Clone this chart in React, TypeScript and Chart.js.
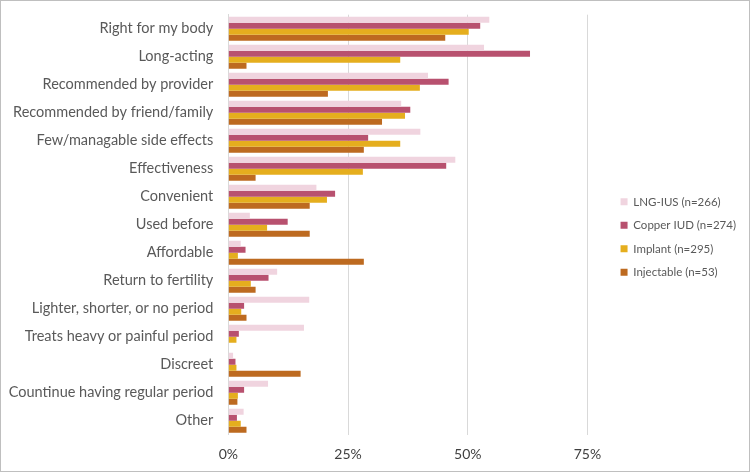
import React, { useEffect, useRef } from "react";
import { Chart, registerables } from "chart.js";

Chart.register(...registerables);

const categories = [
  "Right for my body",
  "Long-acting",
  "Recommended by provider",
  "Recommended by friend/family",
  "Few/managable side effects",
  "Effectiveness",
  "Convenient",
  "Used before",
  "Affordable",
  "Return to fertility",
  "Lighter, shorter, or no period",
  "Treats heavy or painful period",
  "Discreet",
  "Countinue having regular period",
  "Other",
];

const seriesNames = [
  "LNG-IUS (n=266)",
  "Copper IUD (n=274)",
  "Implant (n=295)",
  "Injectable (n=53)",
];

const lngIus = [54.5, 53.4, 41.7, 36.1, 40.1, 47.4, 18.4, 4.5, 2.6, 10.2, 16.9, 15.8, 1.0, 8.3, 3.2];
const copperIud = [52.6, 63.0, 46.0, 38.0, 29.2, 45.5, 22.3, 12.4, 3.6, 8.4, 3.3, 2.2, 1.5, 3.3, 1.8];
const implant = [50.2, 35.9, 40.0, 36.9, 35.9, 28.1, 20.6, 8.1, 2.0, 4.7, 2.7, 1.7, 1.7, 2.0, 2.6];
const injectable = [45.3, 3.8, 20.8, 32.1, 28.3, 5.7, 17.0, 17.0, 28.3, 5.7, 3.8, 0, 15.1, 1.9, 3.8];

const xTickValues = [0, 25, 50, 75];
const xMax = 79.4;

const colors = ["#f0d4df", "#b8516f", "#e5ae1e", "#bd6a20"];

const FONT = "Lato, 'Open Sans', sans-serif";

export default function App() {
  const ref = useRef<HTMLCanvasElement>(null);

  useEffect(() => {
    const series = [lngIus, copperIud, implant, injectable];
    const chart = new Chart(ref.current as HTMLCanvasElement, {
      type: "bar",
      data: {
        labels: categories,
        datasets: series.map((d, i) => ({
          label: seriesNames[i],
          data: d,
          backgroundColor: colors[i],
          borderWidth: 0,
          barPercentage: 1,
          categoryPercentage: 0.857,
        })),
      },
      options: {
        indexAxis: "y",
        animation: false,
        responsive: true,
        maintainAspectRatio: false,
        layout: { autoPadding: false, padding: { top: 13.7, bottom: 11.5, left: 0, right: 3 } },
        scales: {
          x: {
            min: 0,
            max: xMax,
            afterBuildTicks: (axis: any) => {
              axis.ticks = xTickValues.map((v) => ({ value: v }));
            },
            afterFit: (s: any) => {
              s.height = 24.8;
            },
            ticks: {
              callback: (v: any) => v + "%",
              color: "#404040",
              font: { family: FONT, size: 14 },
              padding: 11,
              maxRotation: 0,
              autoSkip: false,
            },
            grid: { color: "#d9d9d9", drawTicks: false },
            border: { display: false },
          },
          y: {
            grid: {
              display: true,
              drawOnChartArea: false,
              drawTicks: true,
              tickLength: 15,
              color: "rgba(0,0,0,0)",
            },
            border: { display: true, color: "#d9d9d9" },
            ticks: {
              color: "#595959",
              font: { family: FONT, size: 14.5 },
              padding: 0,
              autoSkip: false,
            },
            afterFit: (s: any) => {
              s.width = 227.3;
            },
          },
        },
        plugins: {
          legend: {
            position: "right",
            labels: {
              boxWidth: 7,
              boxHeight: 7,
              padding: 12,
              color: "#595959",
              font: { family: FONT, size: 11.5 },
            },
          },
          tooltip: { enabled: false },
        },
      },
    });
    return () => chart.destroy();
  }, []);

  return (
    <div
      style={{
        position: "absolute",
        left: 0,
        top: 0,
        width: 750,
        height: 472,
        boxSizing: "border-box",
        border: "1px solid #bfbfbf",
        background: "#fff",
      }}
    >
      <div style={{ position: "relative", width: 748, height: 470 }}>
        <canvas ref={ref} />
      </div>
    </div>
  );
}
